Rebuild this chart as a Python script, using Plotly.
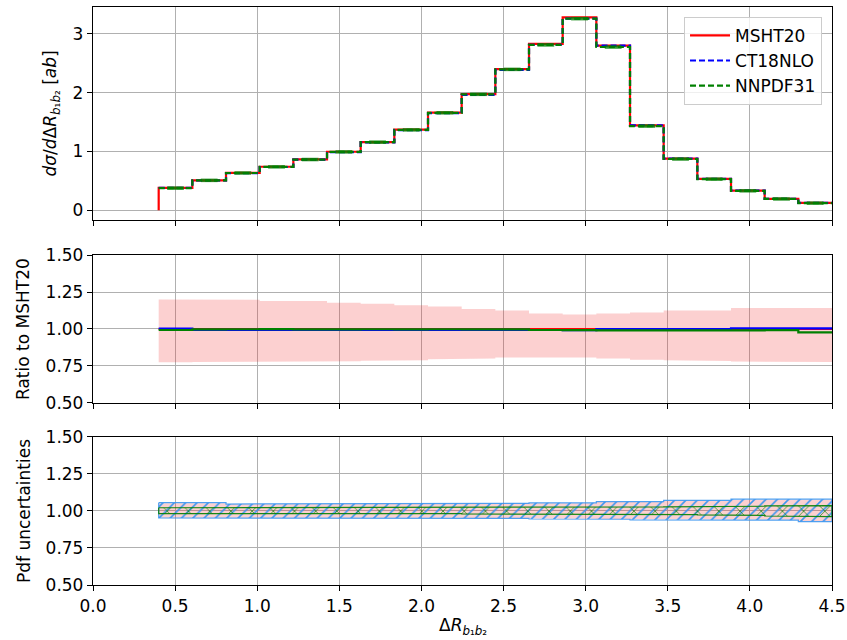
import plotly.graph_objects as go

# ---------------- data ----------------
bin_edges = [0.4, 0.605, 0.81, 1.015, 1.22, 1.425, 1.63, 1.835, 2.04, 2.245, 2.45,
             2.655, 2.86, 3.065, 3.27, 3.475, 3.68, 3.885, 4.09, 4.295, 4.5]

msht20 = [0.380, 0.510, 0.635, 0.740, 0.865, 0.995, 1.160, 1.370, 1.660, 1.975,
          2.400, 2.830, 3.280, 2.800, 1.445, 0.880, 0.535, 0.335, 0.195, 0.125]
ct18nlo = [0.381, 0.507, 0.631, 0.736, 0.860, 0.989, 1.153, 1.362, 1.650, 1.963,
           2.386, 2.811, 3.257, 2.800, 1.445, 0.880, 0.535, 0.3363, 0.1958, 0.1256]
nnpdf31 = [0.3775, 0.509, 0.634, 0.739, 0.863, 0.993, 1.158, 1.367, 1.657, 1.971,
           2.395, 2.811, 3.257, 2.775, 1.432, 0.872, 0.530, 0.332, 0.1935, 0.1221]

# scale-variation band for MSHT20 (ratio panel)
scale_up = [1.200, 1.200, 1.197, 1.190, 1.190, 1.178, 1.170, 1.160, 1.152, 1.135,
            1.125, 1.105, 1.098, 1.105, 1.112, 1.125, 1.125, 1.142, 1.142, 1.142]
scale_dn = [0.775, 0.777, 0.777, 0.780, 0.780, 0.782, 0.785, 0.788, 0.795, 0.800,
            0.808, 0.808, 0.808, 0.800, 0.792, 0.788, 0.783, 0.780, 0.777, 0.777]

# pdf uncertainty bands (relative)
msht_pdf_up = [1.052, 1.052, 1.045, 1.045, 1.045, 1.045, 1.045, 1.048, 1.048, 1.050,
               1.050, 1.053, 1.053, 1.060, 1.060, 1.068, 1.068, 1.075, 1.075, 1.076]
msht_pdf_dn = [0.955, 0.955, 0.955, 0.955, 0.955, 0.955, 0.955, 0.955, 0.955, 0.952,
               0.952, 0.948, 0.948, 0.946, 0.943, 0.943, 0.943, 0.941, 0.941, 0.932]
ct_pdf_up = [1.056, 1.056, 1.047, 1.047, 1.047, 1.047, 1.047, 1.050, 1.050, 1.052,
             1.052, 1.055, 1.055, 1.063, 1.063, 1.072, 1.072, 1.080, 1.080, 1.080]
ct_pdf_dn = [0.953, 0.953, 0.953, 0.953, 0.953, 0.953, 0.953, 0.953, 0.953, 0.950,
             0.950, 0.946, 0.946, 0.944, 0.940, 0.940, 0.940, 0.938, 0.938, 0.928]
nn_pdf_up = [1.022, 1.022, 1.022, 1.022, 1.022, 1.022, 1.022, 1.022, 1.022, 1.024,
             1.024, 1.025, 1.025, 1.026, 1.027, 1.028, 1.030, 1.032, 1.034, 1.036]
nn_pdf_dn = [0.982, 0.982, 0.982, 0.982, 0.982, 0.982, 0.982, 0.982, 0.982, 0.980,
             0.980, 0.980, 0.979, 0.978, 0.977, 0.976, 0.974, 0.970, 0.966, 0.962]

x_ticks = [0.0, 0.5, 1.0, 1.5, 2.0, 2.5, 3.0, 3.5, 4.0, 4.5]
top_ticks = [0, 1, 2, 3]
ratio_ticks = [0.50, 0.75, 1.00, 1.25, 1.50]

# ---------------- helpers ----------------
def step_xy(vals, drop=False):
    xs = list(bin_edges)
    ys = list(vals) + [vals[-1]]
    if drop:
        xs = [bin_edges[0]] + xs
        ys = [0] + ys
    return xs, ys


def band_xy(up, dn):
    xs, ys = [], []
    for i, v in enumerate(up):
        xs += [bin_edges[i], bin_edges[i + 1]]
        ys += [v, v]
    for i in reversed(range(len(dn))):
        xs += [bin_edges[i + 1], bin_edges[i]]
        ys += [dn[i], dn[i]]
    xs.append(xs[0])
    ys.append(ys[0])
    return xs, ys


RED = "#ff0000"
BLUE = "#0000ff"
GREEN = "#008000"
FONT = "DejaVu Sans"
centers = [(a + b) / 2 for a, b in zip(bin_edges[:-1], bin_edges[1:])]

fig = go.Figure()

# ---------- top panel ----------
x, y = step_xy(msht20, drop=True)
fig.add_trace(go.Scatter(x=x, y=y, mode="lines", line=dict(color=RED, width=2.2, shape="hv"),
                         name="MSHT20", xaxis="x", yaxis="y"))
x, y = step_xy(ct18nlo)
fig.add_trace(go.Scatter(x=x, y=y, mode="lines",
                         line=dict(color=BLUE, width=2.2, shape="hv", dash="6px,3px"),
                         name="CT18NLO", xaxis="x", yaxis="y"))
x, y = step_xy(nnpdf31)
fig.add_trace(go.Scatter(x=x, y=y, mode="lines",
                         line=dict(color=GREEN, width=2.2, shape="hv", dash="6px,3px"),
                         name="NNPDF31", xaxis="x", yaxis="y"))
# small statistical error marks at bin centres
fig.add_trace(go.Scatter(x=centers, y=nnpdf31, mode="markers",
                         marker=dict(symbol="line-ew", size=12,
                                     line=dict(width=3.5, color="rgba(0,128,0,0.8)")),
                         showlegend=False, hoverinfo="skip", xaxis="x", yaxis="y"))

# ---------- ratio panel ----------
x, y = band_xy(scale_up, scale_dn)
fig.add_trace(go.Scatter(x=x, y=y, mode="lines", fill="toself", line=dict(width=0),
                         fillcolor="rgba(240,40,40,0.22)", showlegend=False,
                         hoverinfo="skip", xaxis="x2", yaxis="y2"))
r_ms = [a / a for a in msht20]
r_ct = [b / a for a, b in zip(msht20, ct18nlo)]
r_nn = [c / a for a, c in zip(msht20, nnpdf31)]
for vals, col in ((r_ms, RED), (r_ct, BLUE), (r_nn, GREEN)):
    x, y = step_xy(vals)
    fig.add_trace(go.Scatter(x=x, y=y, mode="lines", line=dict(color=col, width=2.2, shape="hv"),
                             showlegend=False, xaxis="x2", yaxis="y2"))

# ---------- pdf uncertainty panel ----------
x, y = band_xy(msht_pdf_up, msht_pdf_dn)
fig.add_trace(go.Scatter(x=x, y=y, mode="lines", fill="toself", line=dict(width=0),
                         fillcolor="rgba(240,40,40,0.22)", showlegend=False,
                         hoverinfo="skip", xaxis="x3", yaxis="y3"))
x, y = band_xy(ct_pdf_up, ct_pdf_dn)
fig.add_trace(go.Scatter(x=x, y=y, mode="lines", fill="toself",
                         line=dict(width=1.2, color="rgba(60,150,240,0.9)"),
                         fillcolor="rgba(0,0,0,0)",
                         fillpattern=dict(shape="/", fgcolor="rgba(60,150,240,1)",
                                          bgcolor="rgba(0,0,0,0)", size=8, solidity=0.2),
                         showlegend=False, hoverinfo="skip", xaxis="x3", yaxis="y3"))
x, y = band_xy(nn_pdf_up, nn_pdf_dn)
fig.add_trace(go.Scatter(x=x, y=y, mode="lines", fill="toself",
                         line=dict(width=1.2, color="rgba(0,128,0,0.9)"),
                         fillcolor="rgba(0,0,0,0)",
                         fillpattern=dict(shape="x", fgcolor="rgba(0,128,0,0.85)",
                                          bgcolor="rgba(0,0,0,0)", size=15, solidity=0.1),
                         showlegend=False, hoverinfo="skip", xaxis="x3", yaxis="y3"))

# ---------------- layout ----------------
axis_common = dict(showline=True, linecolor="black", linewidth=1.3, mirror=True,
                   ticks="outside", ticklen=5, tickwidth=1.3, tickcolor="black",
                   showgrid=True, gridcolor="#b0b0b0", gridwidth=1, zeroline=False,
                   automargin=False,
                   tickfont=dict(family=FONT, size=17, color="black"))

xcommon = dict(axis_common, range=[0, 4.5], tickvals=x_ticks, domain=[0, 1])

fig.update_layout(
    template="none",
    width=847, height=640,
    margin=dict(l=93, r=15, t=7, b=55, autoexpand=False),
    paper_bgcolor="white", plot_bgcolor="white",
    font=dict(family=FONT, size=17, color="black"),
    xaxis=dict(xcommon, anchor="y", showticklabels=False),
    xaxis2=dict(xcommon, anchor="y2", showticklabels=False, matches="x"),
    xaxis3=dict(xcommon, anchor="y3", showticklabels=True, tickformat=".1f", matches="x"),
    yaxis=dict(axis_common, anchor="x", domain=[0.6315, 1.0], range=[-0.1645, 3.455],
               tickvals=top_ticks),
    yaxis2=dict(axis_common, anchor="x2", domain=[0.3149, 0.5709], range=[0.5, 1.5],
                tickvals=ratio_ticks, tickformat=".2f"),
    yaxis3=dict(axis_common, anchor="x3", domain=[0.0, 0.2561], range=[0.5, 1.5],
                tickvals=ratio_ticks, tickformat=".2f"),
    legend=dict(x=0.9865, y=0.983, xanchor="right", yanchor="top",
                bgcolor="rgba(255,255,255,0.8)", bordercolor="#cccccc", borderwidth=1,
                font=dict(family=FONT, size=17, color="black"), tracegroupgap=0,
                itemwidth=40),
    showlegend=True,
    hovermode=False,
    annotations=[
        dict(text="<i>dσ</i>/<i>d</i>Δ<i>R</i><sub><i>b</i>₁<i>b</i>₂</sub> [<i>ab</i>]",
             xref="paper", yref="paper", x=(52 - 93) / 739, y=0.8157, textangle=-90,
             showarrow=False, xanchor="center", yanchor="middle",
             font=dict(family=FONT, size=17)),
        dict(text="Ratio to MSHT20", xref="paper", yref="paper", x=(23 - 93) / 739,
             y=0.4429, textangle=-90, showarrow=False, xanchor="center", yanchor="middle",
             font=dict(family=FONT, size=17)),
        dict(text="Pdf uncertainties", xref="paper", yref="paper", x=(24 - 93) / 739,
             y=0.128, textangle=-90, showarrow=False, xanchor="center", yanchor="middle",
             font=dict(family=FONT, size=17)),
        dict(text="Δ<i>R</i><sub><i>b</i>₁<i>b</i>₂</sub>", xref="paper", yref="paper",
             x=0.5, y=-0.072, showarrow=False, xanchor="center", yanchor="middle",
             font=dict(family=FONT, size=17)),
    ],
)

fig.write_html("out.html")
